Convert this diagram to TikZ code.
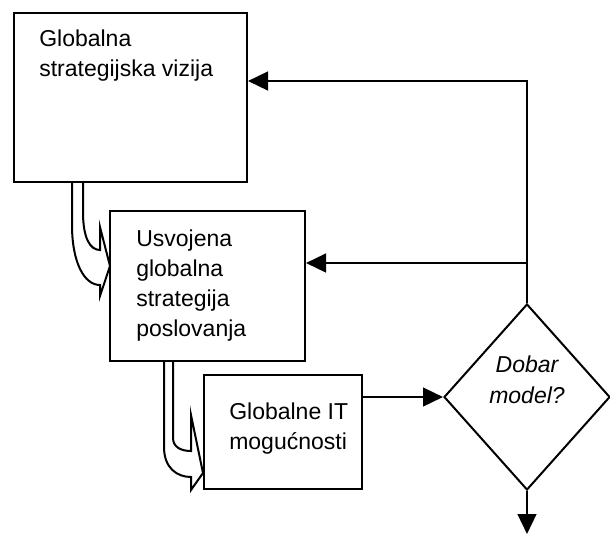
\documentclass[tikz,border=0pt]{standalone}
\usepackage{fontspec}
\setmainfont{Liberation Sans}
\usetikzlibrary{arrows.meta, shapes.geometric}

\begin{document}
\begin{tikzpicture}[x=0.75pt, y=-0.75pt,
  box/.style={draw, line width=1.5pt, inner sep=0pt},
  txt/.style={font=\fontsize{17.25}{22.5}\selectfont, align=left, anchor=north west, inner sep=0pt},
  qtxt/.style={font=\fontsize{17.25}{23.25}\selectfont\itshape, align=center, anchor=north, inner sep=0pt},
  flow/.style={line width=1.85pt, -{Triangle[length=15pt, width=14pt]}},
  hollow/.style={line width=1.5pt, fill=white}]

  \useasboundingbox (0,0) rectangle (610,533);

  %% Hollow bent arrows
  \draw[hollow] (72,182) -- (72,225) .. controls (72,262) and (84,285) .. (100,285)
    -- (100,296) -- (110,266) -- (100,227) -- (100,250)
    .. controls (90,250) and (83,238) .. (83,212) -- (83,182);
  \draw[hollow] (164,361) -- (164,447) .. controls (164,468) and (177,477) .. (191,477)
    -- (191,490) -- (203,473) -- (191,415) -- (191,451)
    .. controls (181,451) and (173,447) .. (173,438) -- (173,361);

  %% Boxes
  \node[box, minimum width=174.75pt, minimum height=126.75pt] (vizija) at (130.5,97.5) {};
  \node[box, minimum width=146.25pt, minimum height=112.5pt] (strategija) at (207.5,286) {};
  \node[box, minimum width=118.5pt, minimum height=85.5pt] (itmog) at (283,432) {};
  \node[draw, diamond, line width=1.5pt, inner sep=0pt,
        minimum width=124.5pt, minimum height=139.5pt] (model) at (527,397) {};

  %% Texts
  \node[txt] (vizijatxt) at (39,30) {Globalna\\strategijska vizija};
  \node[txt] (strategijatxt) at (136,230) {Usvojena\\globalna\\strategija\\poslovanja};
  \node[txt] (itmogtxt) at (229,403) {Globalne IT\\mogućnosti};
  \node[qtxt] (modeltxt) at (527,356) {Dobar\\model?};

  %% Feedback and flow
  \coordinate (gore) at (527,81);
  \coordinate (sredina) at (527,263);
  \coordinate (izlaz) at (527,534);
  \draw[flow] (model.north) -- (gore) -- (gore -| vizija.east);
  \draw[flow] (sredina) -- (sredina -| strategija.east);
  \draw[flow] (itmog.east |- model.west) -- (model.west);
  \draw[flow] (model.south) -- (izlaz);

\end{tikzpicture}
\end{document}
